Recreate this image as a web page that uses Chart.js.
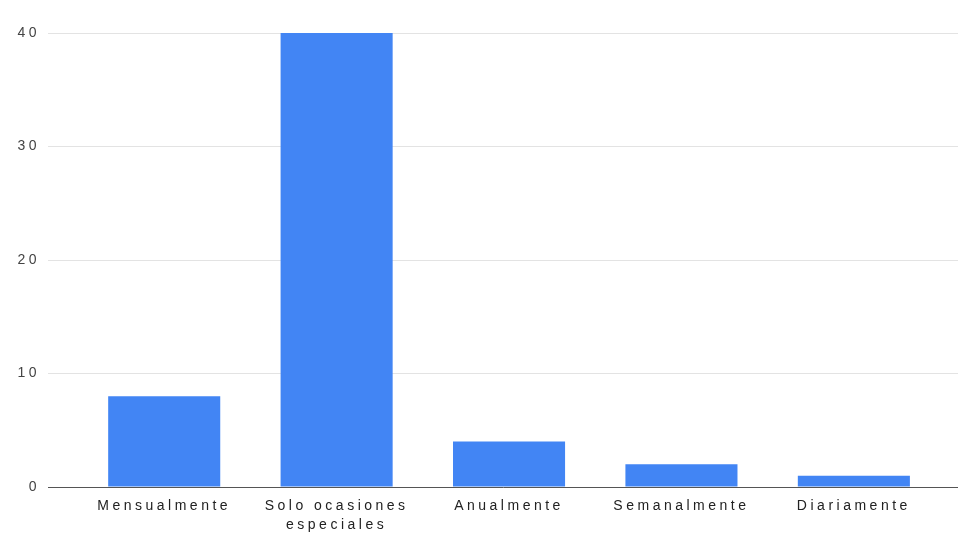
<!DOCTYPE html>
<html>
<head>
<meta charset="utf-8">
<script src="https://cdn.jsdelivr.net/npm/chart.js@4"></script>
<style>
  html, body { margin: 0; padding: 0; background: #fff; }
  #wrap { width: 958px; height: 536px; }
</style>
</head>
<body>
<div id="wrap"><canvas id="chart"></canvas></div>
<script>
// frecuencia de respuesta
const categories = ["Mensualmente", ["Solo ocasiones", "especiales"], "Anualmente", "Semanalmente", "Diariamente"];
const counts = [8, 40, 4, 2, 1];
const yTicks = [0, 10, 20, 30, 40];

// the category band is narrower than the plot, so x is a linear index axis
const xMin = -0.674;
const xMax = 4.604;

const spacing = {
  id: "spacing",
  beforeDraw(chart) {
    chart.ctx.letterSpacing = "3.5px";
  }
};

new Chart(document.getElementById("chart"), {
  type: "bar",
  data: {
    datasets: [{
      data: counts.map((v, i) => ({ x: i, y: v })),
      backgroundColor: "#4285f4",
      barPercentage: 0.65,
      categoryPercentage: 1
    }]
  },
  plugins: [spacing],
  options: {
    responsive: true,
    maintainAspectRatio: false,
    animation: false,
    layout: { padding: { top: 33, right: 0, left: 0, bottom: 0 } },
    plugins: { legend: { display: false }, tooltip: { enabled: false } },
    scales: {
      x: {
        type: "linear",
        offset: false,
        min: xMin,
        max: xMax,
        afterBuildTicks: (s) => { s.ticks = counts.map((_, i) => ({ value: i })); },
        afterFit: (s) => { s.height = 49; },
        grid: { display: false, drawTicks: false, offset: false },
        border: { display: true, color: "#555", width: 1 },
        ticks: {
          padding: 10,
          maxRotation: 0,
          autoSkip: false,
          color: "#222",
          font: { family: "Liberation Sans", size: 14, lineHeight: 1.35 },
          callback: (v) => categories[v] ?? ""
        }
      },
      y: {
        min: 0,
        max: 40,
        afterBuildTicks: (s) => { s.ticks = yTicks.map((v) => ({ value: v })); },
        afterFit: (s) => { s.width = 48; },
        grid: { color: "#e3e3e3", drawTicks: false },
        border: { display: false },
        ticks: {
          padding: 8,
          color: "#444",
          font: { family: "Liberation Sans", size: 14 }
        }
      }
    }
  }
});
</script>
</body>
</html>
